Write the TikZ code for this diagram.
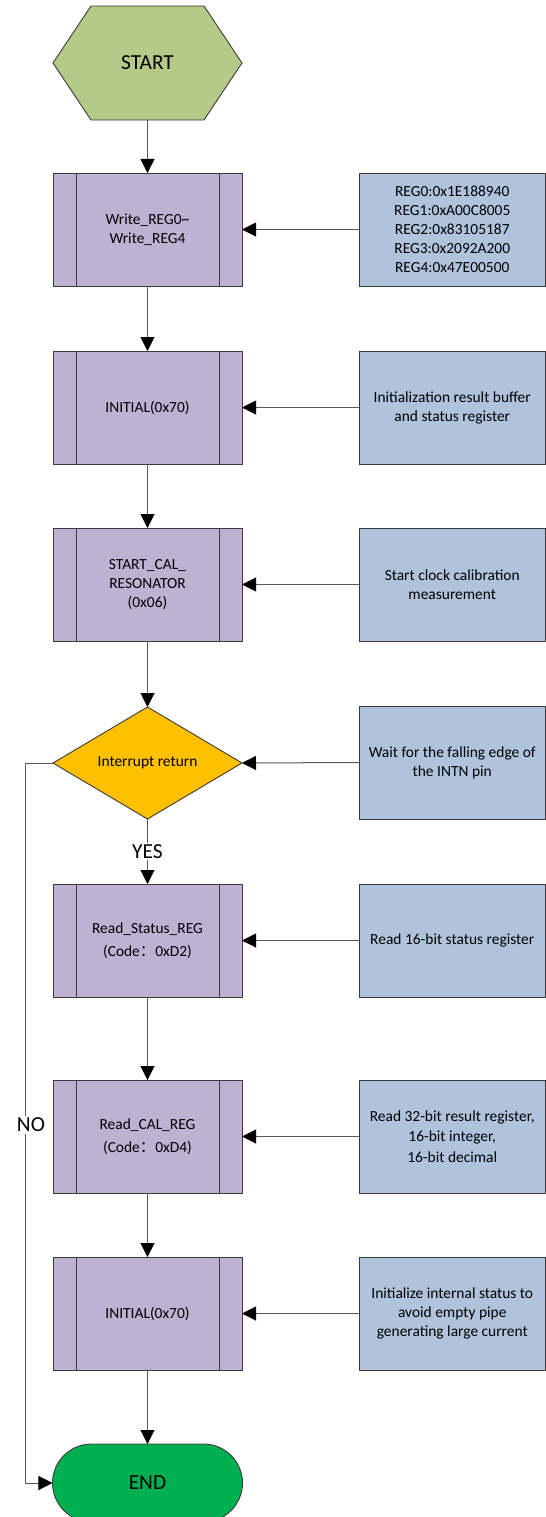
\documentclass[tikz,border=0pt]{standalone}
\usepackage{fontspec}
\setmainfont{Carlito}
\newfontfamily\cjk{Noto Sans CJK SC}
\usetikzlibrary{arrows.meta,backgrounds}
\definecolor{hexg}{HTML}{B5CA88}
\definecolor{purp}{HTML}{BFB1D2}
\definecolor{blu}{HTML}{B0C3DD}
\definecolor{gold}{HTML}{FFC000}
\definecolor{endg}{HTML}{00B050}
\definecolor{bord}{HTML}{3A3A3A}
\definecolor{lin}{HTML}{595959}
\begin{document}
\begin{tikzpicture}[x=1bp,y=-1bp,
  every node/.style={font=\fontsize{15.5}{19}\selectfont, text=black, align=center, inner sep=0pt, outer sep=0pt},
  big/.style={font=\fontsize{21.5}{25}\selectfont},
  frame/.style={rectangle, minimum width=189bp, minimum height=113bp},
  sub/.style={frame, draw=bord, line width=0.9bp, fill=purp,
    path picture={\draw[bord, line width=0.9bp]
      ([xshift=23bp]path picture bounding box.north west) -- ([xshift=23bp]path picture bounding box.south west)
      ([xshift=-23bp]path picture bounding box.north east) -- ([xshift=-23bp]path picture bounding box.south east);}},
  note/.style={rectangle, draw=bord, line width=0.9bp, fill=blu, minimum width=186.5bp, minimum height=113bp},
  ln/.style={draw=lin, line width=1bp},
  arr/.style={ln, -{Triangle[length=14bp,width=14bp,black]}},
  lab/.style={big, fill=white, inner sep=1.5bp}]
\useasboundingbox (0,0) rectangle (546,1517);
\clip (0,0) rectangle (546,1517);

% main column
\node[frame, minimum height=114bp, big] (start) at (147.5,63) {START};
\node[sub] (b1) at (147.5,229.5) {Write\_REG0\textasciitilde\\Write\_REG4};
\node[sub] (b2) at (147.5,407.5) {INITIAL(0x70)};
\node[sub] (b3) at (147.5,584.5) {START\_CAL\_\\RESONATOR\\(0x06)};
\node[frame, minimum height=112bp] (dec) at (147.5,763) {Interrupt return};
\node[sub] (b4) at (147.5,940.5) {Read\_Status\_REG\\[4bp](Code{\cjk ：}0xD2)};
\node[sub] (b5) at (147.5,1136.5) {Read\_CAL\_REG\\[4bp](Code{\cjk ：}0xD4)};
\node[sub] (b6) at (147.5,1313.5) {INITIAL(0x70)};
\node[rectangle, rounded corners=39bp, draw=bord, line width=0.9bp, fill=endg,
      minimum width=190bp, minimum height=78bp, big] (endn) at (147.5,1483) {END};

\begin{pgfonlayer}{background}
  \draw[bord, line width=0.9bp, fill=hexg]
    (start.west) -- ([xshift=38bp]start.north west) -- ([xshift=-38bp]start.north east)
    -- (start.east) -- ([xshift=-38bp]start.south east) -- ([xshift=38bp]start.south west) -- cycle;
  \draw[bord, line width=0.9bp, fill=gold]
    (dec.north) -- (dec.east) -- (dec.south) -- (dec.west) -- cycle;
\end{pgfonlayer}

% notes
\node[note] (r1) at (452.25,229.5) {REG0:0x1E188940\\REG1:0xA00C8005\\REG2:0x83105187\\REG3:0x2092A200\\REG4:0x47E00500};
\node[note] (r2) at (452.25,407.5) {Initialization result buffer\\and status register};
\node[note] (r3) at (452.25,584.5) {Start clock calibration\\measurement};
\node[note] (r4) at (452.25,762.5) {Wait for the falling edge of\\the INTN pin};
\node[note] (r5) at (452.25,940.5) {Read 16-bit status register};
\node[note, font=\fontsize{15.5}{20.5}\selectfont] (r6) at (452.25,1136.5) {Read 32-bit result register,\\16-bit integer,\\16-bit decimal};
\node[note] (r7) at (452.25,1313.5) {Initialize internal status to\\avoid empty pipe\\generating large current};

% main flow
\draw[arr] (start.south) -- (b1.north);
\draw[arr] (b1.south) -- (b2.north);
\draw[arr] (b2.south) -- (b3.north);
\draw[arr] (b3.south) -- (dec.north);
\draw[arr] (dec.south) -- node[lab] (yes) {YES} (b4.north);
\draw[arr] (b4.south) -- (b5.north);
\draw[arr] (b5.south) -- (b6.north);
\draw[arr] (b6.south) -- (endn.north);

% side inputs
\draw[arr] (r1.west) -- (b1.east);
\draw[arr] (r2.west) -- (b2.east);
\draw[arr] (r3.west) -- (b3.east);
\draw[arr] (r4.west) -- (dec.east);
\draw[arr] (r5.west) -- (b4.east);
\draw[arr] (r6.west) -- (b5.east);
\draw[arr] (r7.west) -- (b6.east);

% NO loop
\coordinate (n1) at (25,763);
\coordinate (n2) at (25,1483);
\draw[ln] (dec.west) -- (n1) -- (n2);
\draw[arr] (n2) -- (endn.west);
\node[lab] (no) at (31,1125) {NO};
\end{tikzpicture}
\end{document}
